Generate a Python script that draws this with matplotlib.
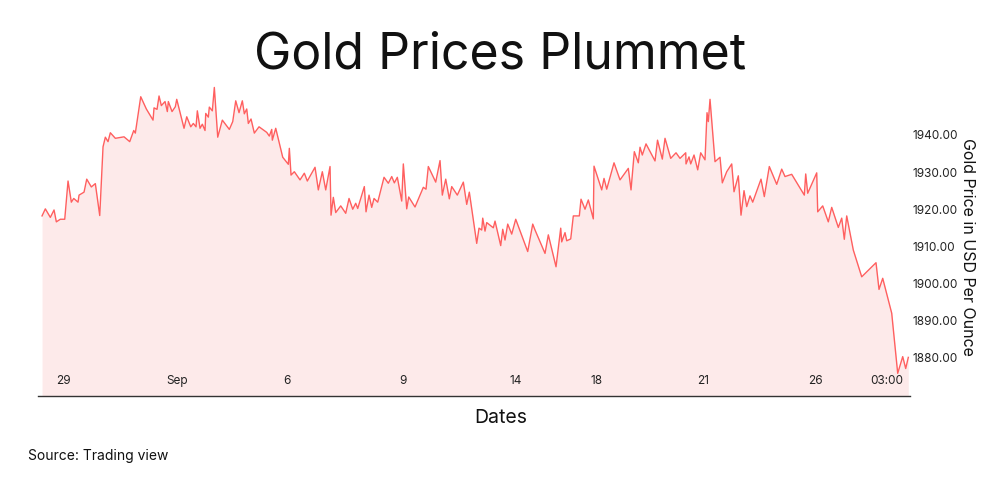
import matplotlib.pyplot as plt

# Posición temporal (índice de sesión) y precio del oro
pos = [0, 3.3, 8.3, 12, 14.3, 18.3, 22.7, 26, 29.3, 31.7, 36, 37, 42, 44.7, 49.3, 53.3,
       57.7, 61, 63.3, 66, 68.3, 73.3, 82, 87.7, 91.7, 93.3, 98.7, 104.3, 111, 112, 115, 117,
       119.3, 123, 125.3, 126.3, 130, 133.3, 134.7, 142, 144.7, 148.7, 151.3, 154, 155.3, 158,
       160.3, 163, 163.7, 166.3, 167.3, 170.3, 172.3, 175.7, 180.3, 187.3, 190.7, 193.7, 197,
       200.3, 202.3, 204.7, 206.3, 209, 212.3, 217, 224.7, 227.3, 229.7, 230.3, 233.7, 240.7,
       246.3, 247.3, 249, 252.3, 258, 262.3, 265.3, 273, 276.3, 280.3, 283.7, 288, 289, 291.3,
       293.7, 298.7, 303.7, 307, 310.7, 313.7, 315.7, 322.3, 324, 327, 329.7, 332, 335.7, 342,
       346.3, 349.7, 352.3, 355.3, 359.7, 361.3, 364.7, 366.7, 373, 381.3, 384, 386.3, 393.7,
       398, 400.3, 403.7, 407.3, 409.7, 415.3, 421.3, 424.7, 427.3, 434.7, 437, 439.7, 440.7,
       443, 444.7, 451.3, 453, 458.7, 460.7, 463, 465.7, 469.7, 473.7, 485.7, 490.7, 493, 503,
       506.3, 514, 518.7, 519.7, 523, 524.7, 528.7, 531.3, 537.3, 539, 543, 546.3, 551.3, 552,
       559.7, 562, 564.7, 572, 578, 586.3, 589, 592.3, 596.3, 598, 600.3, 604, 613, 615.5,
       620.3, 623, 628.7, 634, 638, 643.7, 644, 647, 648.7, 652, 655.7, 658.7, 663, 665, 666.3,
       668, 673, 678, 680.3, 684.7, 689.7, 692, 696.3, 699, 702, 704.7, 708, 710.7, 719, 722.3,
       727.3, 734.7, 739.7, 743, 749.7, 762.3, 763.7, 765.7, 774.7, 775.7, 780.7, 786.3, 789.7,
       796.3, 799.7, 802.3, 804.7, 811.3, 819.7, 834, 837, 840.7, 849.7, 855.7, 860.7, 863.7,
       866.3]
precio = [1918.2, 1920.1, 1917.8, 1919.8, 1916.6, 1917.3, 1917.3, 1927.6, 1921.9, 1922.9,
          1921.9, 1923.8, 1924.6, 1928.1, 1926.0, 1926.9, 1918.3, 1936.8, 1939.4, 1938.2,
          1940.6, 1939.1, 1939.5, 1938.2, 1941.2, 1940.5, 1950.3, 1947.0, 1944.0, 1947.3,
          1946.9, 1950.5, 1947.9, 1949.0, 1946.3, 1949.0, 1946.3, 1947.6, 1949.6, 1941.8,
          1944.9, 1942.2, 1943.1, 1942.2, 1946.5, 1941.8, 1942.9, 1941.2, 1945.8, 1944.8,
          1947.5, 1946.5, 1952.8, 1939.4, 1944.0, 1941.5, 1943.6, 1949.2, 1946.0, 1949.2,
          1945.7, 1947.0, 1943.1, 1944.3, 1940.5, 1942.2, 1940.7, 1939.7, 1941.5, 1938.6,
          1941.8, 1934.0, 1932.1, 1936.4, 1929.2, 1930.1, 1927.9, 1929.7, 1927.6, 1931.3,
          1925.2, 1930.1, 1925.2, 1931.5, 1918.4, 1923.2, 1919.1, 1920.9, 1918.9, 1922.9,
          1920.0, 1921.6, 1920.2, 1926.1, 1919.3, 1923.8, 1920.5, 1922.9, 1921.9, 1928.6,
          1927.0, 1928.8, 1927.1, 1928.6, 1922.2, 1932.2, 1920.1, 1923.3, 1920.6, 1925.9,
          1925.4, 1931.5, 1927.3, 1933.1, 1923.8, 1928.1, 1922.8, 1926.1, 1923.8, 1927.3,
          1921.3, 1924.6, 1910.8, 1914.9, 1914.4, 1917.6, 1914.1, 1916.4, 1915.0, 1916.8,
          1910.2, 1914.6, 1911.7, 1916.0, 1913.3, 1917.3, 1908.6, 1916.0, 1914.4, 1908.1,
          1913.1, 1904.5, 1914.9, 1911.2, 1913.7, 1911.5, 1912.0, 1918.2, 1918.2, 1922.7,
          1920.0, 1922.5, 1917.4, 1931.6, 1925.2, 1928.3, 1925.4, 1932.5, 1927.9, 1931.0,
          1925.2, 1935.5, 1932.5, 1936.7, 1934.6, 1937.6, 1933.0, 1938.6, 1933.5, 1939.1,
          1933.7, 1935.2, 1933.7, 1935.2, 1932.2, 1934.1, 1932.2, 1934.6, 1930.6, 1935.2,
          1933.3, 1946.0, 1943.6, 1949.6, 1932.8, 1934.0, 1927.1, 1930.1, 1932.2, 1924.7,
          1929.0, 1918.4, 1925.0, 1920.7, 1923.6, 1921.9, 1928.1, 1923.4, 1931.5, 1926.7,
          1930.8, 1928.8, 1929.4, 1923.8, 1929.5, 1924.3, 1929.8, 1919.3, 1920.9, 1916.6,
          1920.5, 1915.1, 1917.6, 1911.9, 1918.2, 1909.0, 1901.8, 1905.6, 1898.4, 1901.4,
          1892.0, 1875.8, 1880.3, 1877.1, 1880.1]

# Etiquetas del eje x
tick_pos = [21, 135, 245, 361, 474, 555, 661, 773, 845]
tick_txt = ["29", "Sep", "6", "9", "14", "18", "21", "26", "03:00"]
y_ticks = [1880, 1890, 1900, 1910, 1920, 1930, 1940]

plt.rcParams["font.family"] = ["Inter", "DejaVu Sans"]

fig = plt.figure(figsize=(10.01, 4.79), dpi=100)
ax = fig.add_axes([0.038, 0.1733, 0.8711, 0.6612])

base = 1869.7
ax.fill_between(pos, precio, base, color="#fdeaea", linewidth=0)
ax.plot(pos, precio, color="#ff5f5f", linewidth=1.0)

ax.set_xlim(-4, 868)
ax.set_ylim(base, 1955)

ax.set_xticks(tick_pos)
ax.set_xticklabels(tick_txt)
ax.tick_params(axis="x", length=0, pad=-15, labelsize=8.5, colors="#222222")

ax.yaxis.tick_right()
ax.set_yticks(y_ticks)
ax.set_yticklabels([f"{v:.2f}" for v in y_ticks])
ax.tick_params(axis="y", length=0, pad=2, labelsize=8.5, colors="#222222")

for s in ["top", "left", "right"]:
    ax.spines[s].set_visible(False)
ax.spines["bottom"].set_color("#333333")
ax.spines["bottom"].set_linewidth(1.0)

ax.yaxis.set_label_position("right")
ax.set_ylabel("Gold Price in USD Per Ounce", rotation=270, fontsize=11.5, color="#111111",
              va="center")
ax.yaxis.set_label_coords(1.066, 0.47)

fig.text(0.5, 0.885, "Gold Prices Plummet", ha="center", va="center", fontsize=36,
         color="#111111")
fig.text(0.5, 1 - 418 / 479, "Dates", ha="center", va="center", fontsize=14, color="#111111")
fig.text(0.028, 1 - 456 / 479, "Source: Trading view", ha="left", va="center", fontsize=10,
         color="#111111")

fig.savefig("out.png", dpi=100)
